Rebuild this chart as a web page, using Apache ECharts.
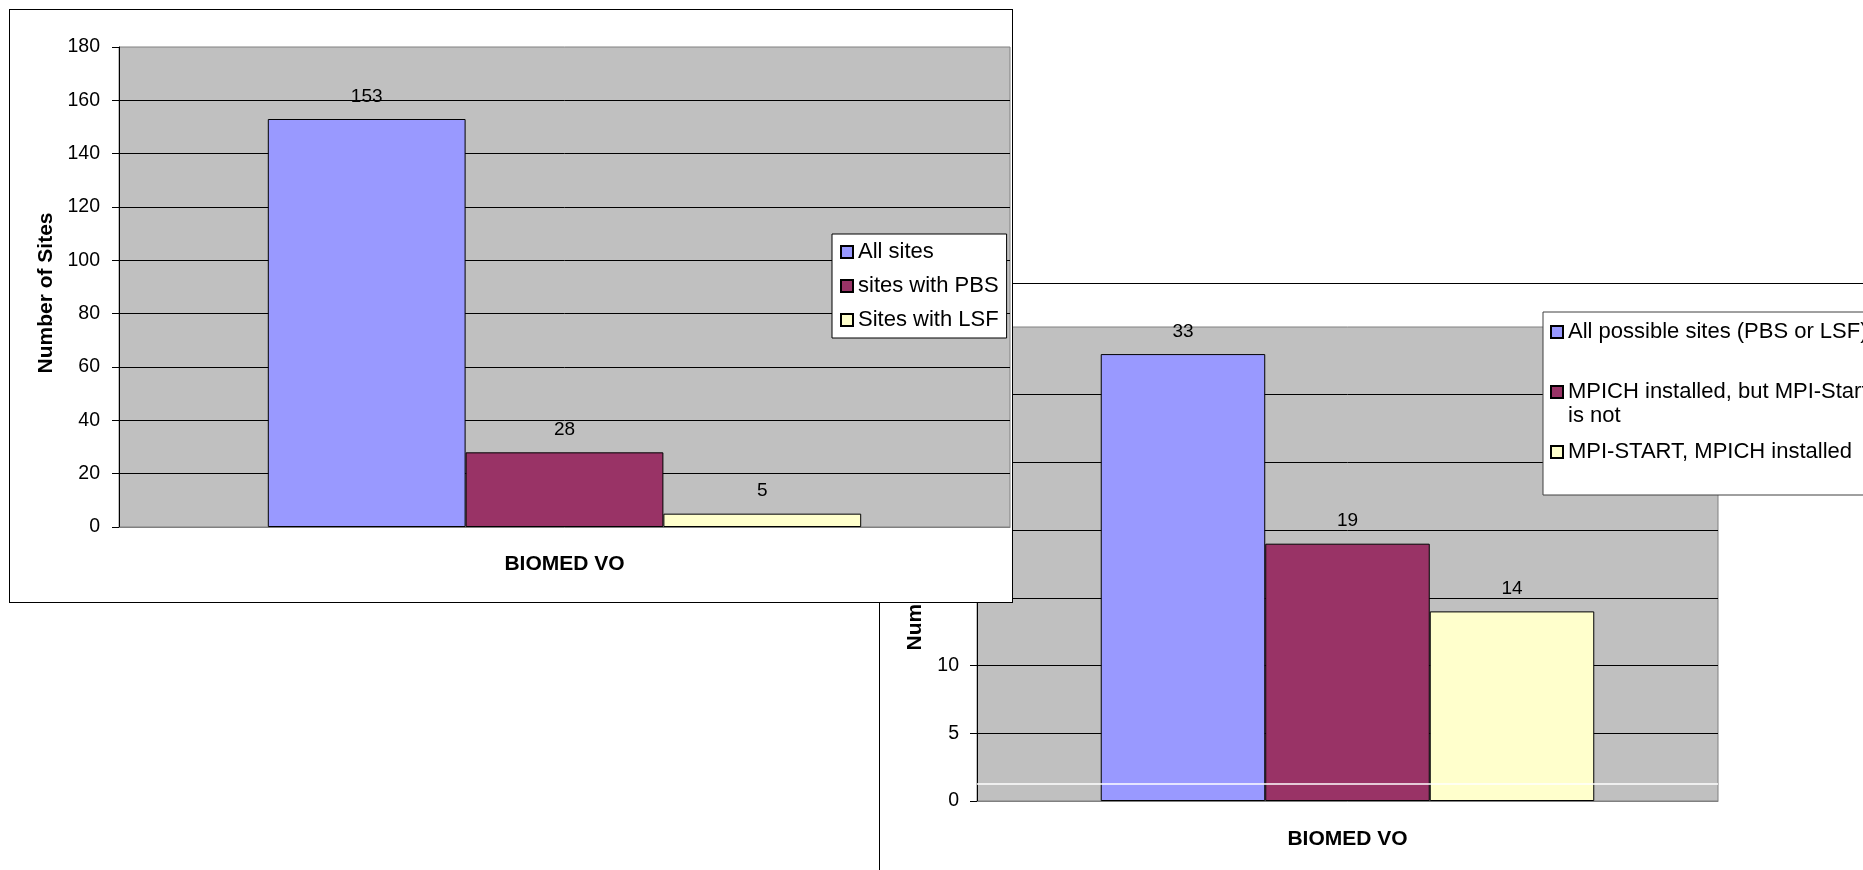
<!DOCTYPE html>
<html>
<head>
<meta charset="utf-8">
<script src="https://cdn.jsdelivr.net/npm/echarts@6/dist/echarts.min.js"></script>
<style>
html, body { margin: 0; padding: 0; width: 1863px; height: 870px; overflow: hidden; background: #fff; }
#right { position: absolute; left: 879px; top: 283px; width: 1100px; height: 700px; border-left: 1px solid #000; border-top: 1px solid #000; background: #fff; z-index: 1; }
#left { position: absolute; left: 9px; top: 9px; width: 1002px; height: 592px; border: 1px solid #000; background: #fff; z-index: 2; }
</style>
</head>
<body>
<div id="right"></div>
<div id="left"></div>
<script>
// ---- data ----
const categories = ['BIOMED VO'];
const leftSeriesNames = ['All sites', 'sites with PBS', 'Sites with LSF'];
const leftValues = [153, 28, 5];
const leftYTicks = { min: 0, max: 180, interval: 20 };

const rightSeriesNames = ['All possible sites (PBS or LSF)', 'MPICH installed, but MPI-Start is not', 'MPI-START, MPICH installed'];
const rightValues = [33, 19, 14];
const rightYTicks = { min: 0, max: 35, interval: 5 };
const rightWhiteLine = 1.25;

const colors = ['#9999FF', '#993366', '#FFFFCC'];
const FONT = "'Liberation Sans', Arial, sans-serif";

function makeSeries(names, values, extraLine) {
  return names.map((n, i) => {
    const s = {
      name: n,
      type: 'bar',
      data: [values[i]],
      barGap: 0,
      barCategoryGap: '33.4%',
      itemStyle: { color: colors[i], borderColor: '#000', borderWidth: 1 },
      label: { show: true, position: 'top', distance: 13, color: '#000', fontSize: 19, fontFamily: FONT },
      emphasis: { disabled: true }
    };
    if (extraLine !== undefined && i === 0) {
      s.markLine = {
        silent: true, symbol: 'none', label: { show: false },
        lineStyle: { color: '#ffffff', type: 'solid', width: 1.5 },
        data: [{ yAxis: extraLine }]
      };
    }
    return s;
  });
}

function baseAxes(ticks, nameGap, labelMargin, catMargin) {
  return {
    xAxis: {
      type: 'category',
      data: categories,
      axisLine: { show: true, lineStyle: { color: '#808080' } },
      axisTick: { show: false },
      axisLabel: { color: '#000', fontSize: 21, fontWeight: 'bold', fontFamily: FONT, margin: catMargin }
    },
    yAxis: {
      type: 'value',
      min: ticks.min, max: ticks.max, interval: ticks.interval,
      name: 'Number of Sites',
      nameLocation: 'middle',
      nameRotate: 90,
      nameGap: nameGap,
      nameTextStyle: { color: '#000', fontSize: 21, fontWeight: 'bold', fontFamily: FONT, padding: [0, 12, 0, 0] },
      axisLine: { show: true, lineStyle: { color: '#000' } },
      axisTick: { show: true, inside: false, length: 7, lineStyle: { color: '#000' } },
      axisLabel: { color: '#000', fontSize: 19.5, fontFamily: FONT, margin: labelMargin },
      splitLine: { show: true, showMinLine: false, showMaxLine: false, lineStyle: { color: '#000', width: 1 } }
    }
  };
}

// ---- left chart ----
const leftChart = echarts.init(document.getElementById('left'), null, { renderer: 'canvas' });
const la = baseAxes(leftYTicks, 60, 19, 27);
leftChart.setOption({
  animation: false,
  textStyle: { fontFamily: FONT },
  grid: { left: 109, top: 37, width: 891, height: 480, show: true, backgroundColor: '#C0C0C0', borderColor: '#808080', borderWidth: 1 },
  xAxis: la.xAxis,
  yAxis: la.yAxis,
  legend: {
    orient: 'vertical',
    left: 822, top: 224,
    backgroundColor: '#fff', borderColor: '#000', borderWidth: 1,
    padding: [6, 8, 6, 8],
    itemWidth: 12, itemHeight: 12, itemGap: 10,
    icon: 'rect',
    selectedMode: false,
    textStyle: { color: '#000', fontSize: 22, lineHeight: 24, fontFamily: FONT },
    data: leftSeriesNames
  },
  series: makeSeries(leftSeriesNames, leftValues)
});

// ---- right chart ----
const rightChart = echarts.init(document.getElementById('right'), null, { renderer: 'canvas' });
const ra = baseAxes(rightYTicks, 51, 18, 28);
const rightLegendText = {};
rightLegendText[rightSeriesNames[1]] = '\nMPICH installed, but MPI-Start\nis not';
rightChart.setOption({
  animation: false,
  textStyle: { fontFamily: FONT },
  grid: { left: 97, top: 43, width: 741, height: 474, show: true, backgroundColor: '#C0C0C0', borderColor: '#808080', borderWidth: 1 },
  xAxis: ra.xAxis,
  yAxis: ra.yAxis,
  legend: {
    orient: 'vertical',
    left: 663, top: 28,
    backgroundColor: '#fff', borderColor: '#404040', borderWidth: 1,
    padding: [8, 40, 31, 7],
    itemWidth: 12, itemHeight: 12, itemGap: 12,
    icon: 'rect',
    selectedMode: false,
    textStyle: { color: '#000', fontSize: 22, lineHeight: 24, fontFamily: FONT },
    formatter: function (name) { return rightLegendText[name] || name; },
    data: rightSeriesNames
  },
  series: makeSeries(rightSeriesNames, rightValues, rightWhiteLine)
});
</script>
</body>
</html>
